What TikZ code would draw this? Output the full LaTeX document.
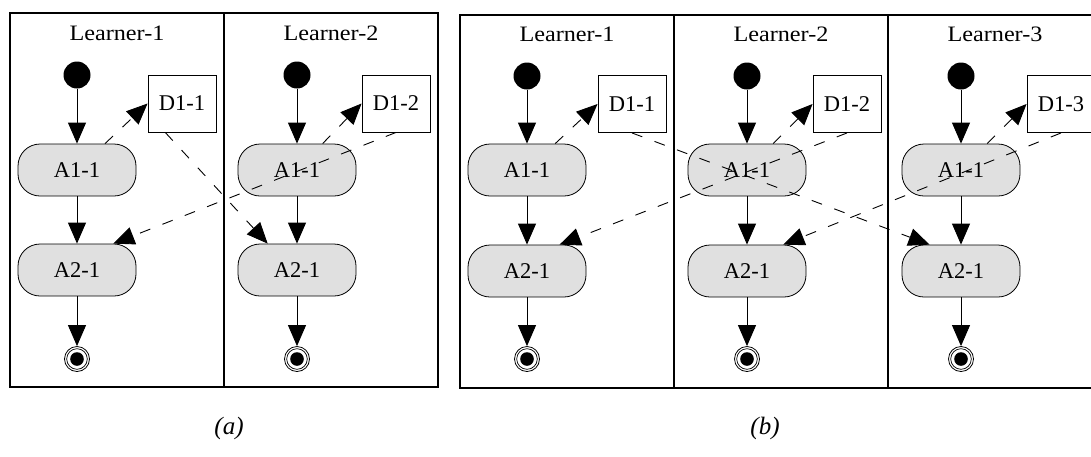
\documentclass[tikz,border=0pt]{standalone}
\usepackage{fontspec}
\setmainfont{Liberation Serif}
\newfontfamily\titlefont[FakeStretch=1.1]{Liberation Serif}
\usetikzlibrary{arrows.meta}
\definecolor{actgray}{RGB}{224,224,224}
\begin{document}
\begin{tikzpicture}[x=1pt,y=-1pt,
  lbl/.style={font=\titlefont\fontsize{22}{24}\selectfont, anchor=base, inner sep=0pt},
  act/.style={draw=black, line width=0.8pt, fill=actgray, rounded corners=22pt,
    minimum width=118pt, minimum height=52pt, inner sep=0pt,
    font=\fontsize{22.5}{24}\selectfont},
  dec/.style={draw=black, line width=0.9pt, fill=white, minimum width=68pt,
    minimum height=57pt, inner sep=0pt, font=\fontsize{22.5}{24}\selectfont},
  startnode/.style={circle, fill=black, minimum size=27pt, inner sep=0pt},
  endnode/.style={circle, draw=black, line width=0.8pt, fill=white, minimum size=25pt, inner sep=0pt,
    path picture={\fill[black] (path picture bounding box.center) circle (6.8pt);
      \draw[line width=0.7pt] (path picture bounding box.center) circle (10.3pt);}},
  flow/.style={-{Triangle[length=21pt,width=18pt]}, line width=0.9pt},
  dflow/.style={flow, dash pattern=on 11pt off 13pt},
  lane/.style={draw=black, line width=1.1pt},
  captext/.style={font=\itshape\fontsize{25}{27}\selectfont, inner sep=0pt}
]
\useasboundingbox (0,0) rectangle (1091,456);
\clip (0,0) rectangle (1091,456);

% ---------- panel (a) ----------
\draw[lane] (10,13) rectangle (438,387);
\draw[lane] (224,13) -- (224,387);
\node[lbl] (ta1) at (117,40) {Learner-1};
\node[lbl] (ta2) at (331,40) {Learner-2};

\node[startnode] (sa1) at (77,75) {};
\node[act] (a11a) at (77,170) {A1-1};
\node[act] (a21a) at (77,270) {A2-1};
\node[endnode] (ea1) at (77,359) {};
\node[dec] (d11a) at (182,103.5) {D1-1};

\node[startnode] (sa2) at (297,75) {};
\node[act] (a11b) at (297,170) {A1-1};
\node[act] (a21b) at (297,270) {A2-1};
\node[endnode] (ea2) at (297,359) {};
\node[dec] (d12a) at (396,103.5) {D1-2};

\draw[flow] (sa1) -- (a11a);
\draw[flow] (a11a) -- (a21a);
\draw[flow] (a21a) -- (ea1);
\draw[flow] (sa2) -- (a11b);
\draw[flow] (a11b) -- (a21b);
\draw[flow] (a21b) -- (ea2);

\draw[dflow] (a11a) -- (d11a.west);
\draw[dflow] (d11a.-120) -- (a21b.138);
\draw[dflow] (a11b) -- (d12a.west);
\draw[dflow] (d12a.south) -- (a21a.36);

% ---------- panel (b) ----------
\draw[lane] (460,15) rectangle (1102,388);
\draw[lane] (674,15) -- (674,388);
\draw[lane] (888,15) -- (888,388);
\node[lbl] (tb1) at (567,41) {Learner-1};
\node[lbl] (tb2) at (781,41) {Learner-2};
\node[lbl] (tb3) at (995,41) {Learner-3};

\node[startnode] (sb1) at (527,76) {};
\node[act] (a11c) at (527,170) {A1-1};
\node[act] (a21c) at (527,271) {A2-1};
\node[endnode] (eb1) at (527,359) {};
\node[dec] (d11c) at (632,104) {D1-1};

\node[startnode] (sb2) at (747,76) {};
\node[act] (a11d) at (747,170) {A1-1};
\node[act] (a21d) at (747,271) {A2-1};
\node[endnode] (eb2) at (747,359) {};
\node[dec] (d12b) at (847,104) {D1-2};

\node[startnode] (sb3) at (961,76) {};
\node[act] (a11e) at (961,170) {A1-1};
\node[act] (a21e) at (961,271) {A2-1};
\node[endnode] (eb3) at (961,359) {};
\node[dec] (d13) at (1061,104) {D1-3};

\draw[flow] (sb1) -- (a11c);
\draw[flow] (a11c) -- (a21c);
\draw[flow] (a21c) -- (eb1);
\draw[flow] (sb2) -- (a11d);
\draw[flow] (a11d) -- (a21d);
\draw[flow] (a21d) -- (eb2);
\draw[flow] (sb3) -- (a11e);
\draw[flow] (a11e) -- (a21e);
\draw[flow] (a21e) -- (eb3);

\draw[dflow] (a11c) -- (d11c.west);
\draw[dflow] (a11d) -- (d12b.west);
\draw[dflow] (a11e) -- (d13.west);
\draw[dflow] (d11c.south) -- (a21e.140);
\draw[dflow] (d12b.south) -- (a21c.39.5);
\draw[dflow] (d13.south) -- (a21d.36.5);

% captions
\node[captext] (capa) at (229,428) {(a)};
\node[captext] (capb) at (765,428) {(b)};
\end{tikzpicture}
\end{document}
